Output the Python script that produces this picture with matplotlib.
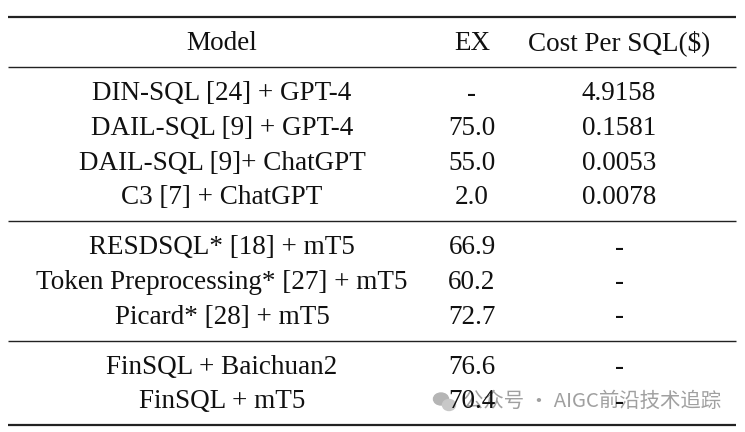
import matplotlib.pyplot as plt
from matplotlib.patches import Ellipse

models = ['DIN-SQL [24] + GPT-4', 'DAIL-SQL [9] + GPT-4', 'DAIL-SQL [9]+ ChatGPT', 'C3 [7] + ChatGPT',
          'RESDSQL* [18] + mT5', 'Token Preprocessing* [27] + mT5', 'Picard* [28] + mT5',
          'FinSQL + Baichuan2', 'FinSQL + mT5']
ex = ['-', '75.0', '55.0', '2.0', '66.9', '60.2', '72.7', '76.6', '70.4']
cost = ['4.9158', '0.1581', '0.0053', '0.0078', '-', '-', '-', '-', '-']
headers = ['Model', 'EX', 'Cost Per SQL($)']
groups = [4, 3, 2]

fig = plt.figure(figsize=(7.45, 4.32), dpi=100)
ax = fig.add_axes([0, 0, 1, 1])
ax.set_xlim(0, 745)
ax.set_ylim(432, 0)
ax.axis('off')

font = dict(family='Liberation Serif', size=19.5, color='#111111', ha='center', va='center')
col_x = [222, 472, 619]

def rule(y, lw=1.6):
    ax.plot([8, 736], [y, y], color='#222222', lw=lw, solid_capstyle='butt')

rule(17)
for x, h in zip(col_x, headers):
    ax.text(x, 43, h, **font)
rule(67, 1.0)

row_h = 34.5
y = 94
i = 0
for g, n in enumerate(groups):
    for _ in range(n):
        ax.text(col_x[0], y, models[i], **font)
        ax.text(col_x[1], y, ex[i], **font)
        ax.text(col_x[2], y, cost[i], **font)
        y += row_h
        i += 1
    if g < len(groups) - 1:
        rule(y - row_h / 2 + 6.5, 1.0)
        y += 16
rule(425)

# watermark
ax.add_patch(Ellipse((441, 399), 15, 12, color='#b5b5b5', zorder=0))
ax.add_patch(Ellipse((449, 405), 13, 11, color='#c8c8c8', zorder=0))
ax.text(463, 401, '公众号 · AIGC前沿技术追踪', family=['Noto Sans CJK SC', 'DejaVu Sans'],
        size=14.7, color='#a0a0a0', ha='left', va='center', zorder=0)

fig.savefig('out.png', dpi=100)
